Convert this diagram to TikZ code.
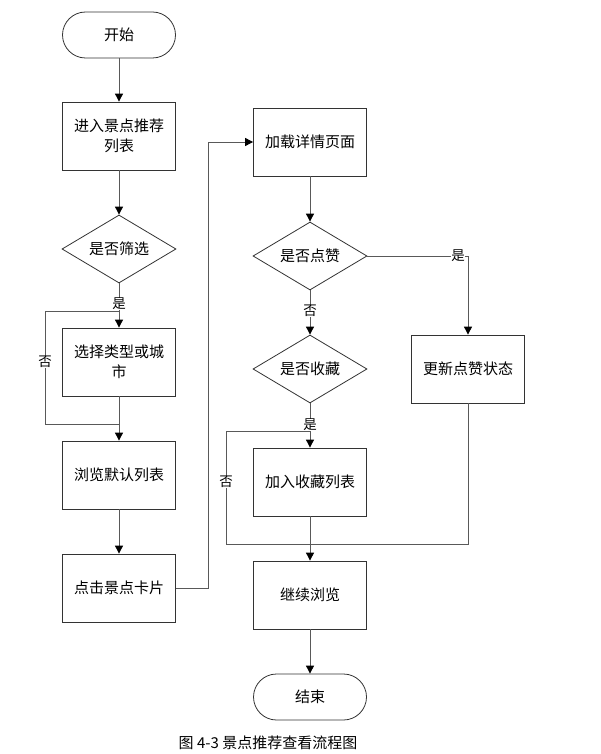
\documentclass[tikz,border=0pt]{standalone}
\usepackage{fontspec}
\setmainfont{Noto Sans CJK SC}
\usetikzlibrary{arrows.meta,shapes.geometric}
\begin{document}
\begin{tikzpicture}[x=1pt,y=-1pt,
  every node/.style={font=\fontsize{15}{20}\selectfont},
  box/.style={draw=black!80,line width=0.8pt,minimum width=113pt,minimum height=68pt,inner sep=2pt,align=center,text width=98pt},
  term/.style={draw=black!80,line width=0.8pt,minimum width=113pt,minimum height=46pt,rounded corners=23pt,inner sep=0pt},
  dia/.style={draw=black!80,line width=0.8pt,diamond,aspect=1.7,minimum width=114pt,minimum height=68pt,inner sep=0pt},
  conn/.style={draw=black!65,line width=0.9pt},
  arr/.style={conn,-{Triangle[length=8pt,width=8pt,color=black]}},
  lbl/.style={fill=white,inner sep=0.5pt,font=\fontsize{13.5}{15}\selectfont}
]
\useasboundingbox (0,0) rectangle (600,754);
\node[term] (start) at (119,35) {开始};
\node[box] (b1) at (119,136) {进入景点推荐\\列表};
\node[dia] (d1) at (119,249) {是否筛选};
\node[box] (b2) at (119,362) {选择类型或城\\市};
\node[box] (b3) at (119,475) {浏览默认列表};
\node[box] (b4) at (119,588) {点击景点卡片};
\node[box] (r1) at (310,142) {加载详情页面};
\node[dia] (d2) at (310,256) {是否点赞};
\node[dia] (d3) at (310,369) {是否收藏};
\node[box] (r2) at (310,482) {加入收藏列表};
\node[box] (r3) at (468,369) {更新点赞状态};
\node[box] (r4) at (310,595) {继续浏览};
\node[term] (end) at (310,697) {结束};
\coordinate (j1) at (119,311);
\coordinate (j2) at (119,424);
\coordinate (j3) at (310,431);
\coordinate (j4) at (310,544);
\coordinate (k1) at (45,311);
\coordinate (k2) at (45,424);
\coordinate (k3) at (226,431);
\coordinate (k4) at (226,544);
\coordinate (m1) at (208,588);
\draw[arr] (start) -- (b1);
\draw[arr] (b1) -- (d1);
\draw[arr] (d1) -- (b2);
\draw[conn] (j1) -- (k1) -- (k2) -- (j2);
\draw[arr] (b2) -- (b3);
\draw[arr] (b3) -- (b4);
\draw[arr] (b4.east) -- (m1) |- (r1.west);
\draw[arr] (r1) -- (d2);
\draw[arr] (d2.east) -| (r3.north);
\draw[arr] (d2) -- (d3);
\draw[arr] (d3) -- (r2);
\draw[conn] (j3) -- (k3) -- (k4) -- (j4);
\draw[conn] (r3.south) |- (j4);
\draw[arr] (r2) -- (r4);
\draw[arr] (r4) -- (end);
\node[lbl] (l1) at (119,304) {是};
\node[lbl] (l2) at (45,362) {否};
\node[lbl] (l3) at (458,256) {是};
\node[lbl] (l4) at (310,311) {否};
\node[lbl] (l5) at (310,425) {是};
\node[lbl] (l6) at (226,482) {否};
\node (cap) at (268,743) {图 4-3 景点推荐查看流程图};
\end{tikzpicture}
\end{document}
